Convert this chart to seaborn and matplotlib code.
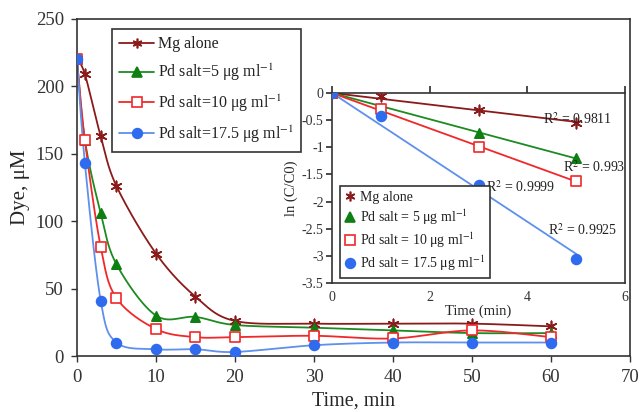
import numpy as np
import pandas as pd
import matplotlib
matplotlib.use("Agg")
import matplotlib.pyplot as plt
from matplotlib.lines import Line2D
import seaborn as sns

# ---- data: dye concentration vs time ----
time_min = [0, 1, 3, 5, 10, 15, 20, 30, 40, 50, 60]
mg_alone = [220, 209, 163, 126, 76, 44, 26, 24, 24, 24, 22]
pd_5 = [220, 160, 106, 68, 30, 29, 23, 21, 19, 17, 17]
pd_10 = [220, 160, 81, 43, 20, 14, 14, 15, 13, 19, 14]
pd_17_5 = [220, 143, 41, 10, 5, 5, 3, 8, 10, 10, 10]

# ---- data: kinetics, ln(C/C0) vs time ----
kin_time = [0, 1, 3, 5]
kin_mg = [0, -0.05, -0.31, -0.55]
kin_pd5 = [0, -0.28, -0.74, -1.19]
kin_pd10 = [0, -0.30, -0.99, -1.63]
kin_pd17 = [0, -0.43, -1.69, -3.05]
r2_labels = ["0.9811", "0.993", "0.9999", "0.9925"]

main_labels = ["Mg alone", "Pd salt=5 μg ml$^{-1}$", "Pd salt=10 μg ml$^{-1}$",
               "Pd salt=17.5 μg ml$^{-1}$"]
inset_labels = ["Mg alone", "Pd salt = 5 μg ml$^{-1}$", "Pd salt = 10 μg ml$^{-1}$",
                "Pd salt = 17.5 μg ml$^{-1}$"]

sns.set_theme(style="ticks")
plt.rcParams["font.family"] = ["Liberation Serif", "DejaVu Serif"]
plt.rcParams["mathtext.fontset"] = "stix"
plt.rcParams["axes.edgecolor"] = "#333333"
plt.rcParams["xtick.color"] = "#333333"
plt.rcParams["ytick.color"] = "#333333"
plt.rcParams["text.color"] = "#222222"

colors = ["#8B1A1A", "#0E7F12", "#F0282A", "#2F6BEF"]
line_colors = ["#8B1A1A", "#1E8A22", "#F0282A", "#5E90EC"]
markers = [(6, 2, 0), "^", "s", "o"]
mfaces = ["#8B1A1A", "#0E7F12", "none", "#2F6BEF"]
msizes = [55, 45, 45, 50]


def smooth_curve(x, y, n=30):
    """Bezier smoothing through every point (control points at 1/6 of neighbour span)."""
    p = np.column_stack([x, y]).astype(float)
    ext = np.vstack([p[0], p, p[-1]])
    out = []
    t = np.linspace(0, 1, n)[:, None]
    for i in range(len(p) - 1):
        p0, p1 = ext[i + 1], ext[i + 2]
        c1 = p0 + (ext[i + 2] - ext[i]) / 6.0
        c2 = p1 - (ext[i + 3] - ext[i + 1]) / 6.0
        seg = ((1 - t) ** 3) * p0 + 3 * ((1 - t) ** 2) * t * c1 + 3 * (1 - t) * t ** 2 * c2 + t ** 3 * p1
        out.append(seg if i == 0 else seg[1:])
    s = np.vstack(out)
    return s[:, 0], s[:, 1]


fig = plt.figure(figsize=(6.4, 4.12), dpi=100)
ax = fig.add_axes([0.1203, 0.1359, 0.8641, 0.818])

series = [mg_alone, pd_5, pd_10, pd_17_5]
handles = []
for vals, lab, c, lc, m, mf, ms in zip(series, main_labels, colors, line_colors, markers, mfaces, msizes):
    sx, sy = smooth_curve(time_min, vals)
    sns.lineplot(x=sx, y=sy, ax=ax, color=lc, lw=1.3, sort=False, estimator=None, legend=False)
    df = pd.DataFrame({"t": time_min, "v": vals})
    if mf == "none":
        sns.scatterplot(data=df, x="t", y="v", ax=ax, marker=m, s=ms, facecolor="white",
                        edgecolor=c, linewidth=1.2, zorder=3, legend=False)
    else:
        sns.scatterplot(data=df, x="t", y="v", ax=ax, marker=m, s=ms, color=c,
                        edgecolor=c, linewidth=1.2, zorder=3, legend=False)
    handles.append(Line2D([], [], color=lc, lw=1.3, marker=m, markersize=7,
                          markerfacecolor=("white" if mf == "none" else c),
                          markeredgecolor=c, markeredgewidth=1.2, label=lab))

ax.set_xlim(0, 70)
ax.set_ylim(0, 250)
ax.set_xticks(range(0, 71, 10))
ax.set_yticks(range(0, 251, 50))
ax.tick_params(labelsize=13.5, length=4.5, width=1, direction="out", pad=5)
for sp in ax.spines.values():
    sp.set_visible(True)
    sp.set_linewidth(1.2)
ax.set_xlabel("Time, min", fontsize=14.5, labelpad=4)
ax.set_ylabel("Dye, μM", fontsize=15, labelpad=4)

leg = ax.legend(handles=handles, loc="upper left", bbox_to_anchor=(0.0633, 0.970),
                borderaxespad=0, fontsize=11.5, frameon=True, fancybox=False,
                handlelength=2.2, handletextpad=0.2, labelspacing=0.6,
                borderpad=0.45)
leg.get_frame().set_edgecolor("#333333")
leg.get_frame().set_linewidth(1.2)
leg.get_frame().set_alpha(1)

# ---- inset: first-order kinetics ----
axi = fig.add_axes([0.5188, 0.3131, 0.4578, 0.4612])
axi.set_facecolor("white")
kin = [kin_mg, kin_pd5, kin_pd10, kin_pd17]
ihandles = []
r2_pos = [(4.33, -0.48), (4.72, -1.37), (3.15, -1.74), (4.43, -2.52)]
for vals, lab, c, lc, m, mf, ms, r2, pos in zip(kin, inset_labels, colors, line_colors, markers,
                                                 mfaces, msizes, r2_labels, r2_pos):
    x = np.array(kin_time, float)
    y = np.array(vals, float)
    slope = np.sum(x * y) / np.sum(x * x)  # trend line through the origin
    fx = np.array([0.0, x.max()])
    sns.lineplot(x=fx, y=slope * fx, ax=axi, color=lc, lw=1.3, legend=False)
    df = pd.DataFrame({"t": kin_time, "v": vals})
    if mf == "none":
        sns.scatterplot(data=df, x="t", y="v", ax=axi, marker=m, s=ms, facecolor="white",
                        edgecolor=c, linewidth=1.2, zorder=3, legend=False)
    else:
        sns.scatterplot(data=df, x="t", y="v", ax=axi, marker=m, s=ms, color=c,
                        edgecolor=c, linewidth=1.2, zorder=3, legend=False)
    axi.text(pos[0], pos[1], "R$^2$ = " + r2, fontsize=10, va="center", ha="left", color="#222222")
    ihandles.append(Line2D([], [], lw=0, marker=m, markersize=7,
                           markerfacecolor=("white" if mf == "none" else c),
                           markeredgecolor=c, markeredgewidth=1.2, label=lab))

axi.set_xlim(0, 6)
axi.set_ylim(-3.5, 0)
axi.set_xticks([0, 2, 4, 6])
axi.set_yticks(np.arange(-3.5, 0.01, 0.5))
axi.set_yticklabels(["-3.5", "-3", "-2.5", "-2", "-1.5", "-1", "-0.5", "0"])
axi.tick_params(axis="x", top=True, bottom=False, labeltop=False, labelbottom=True,
                direction="out", length=5, labelsize=10, pad=1)
axi.tick_params(axis="y", direction="out", length=4, labelsize=10, pad=2)
for sp in axi.spines.values():
    sp.set_visible(True)
    sp.set_linewidth(1.2)
axi.set_xlabel("Time (min)", fontsize=10.5, labelpad=0)
axi.set_ylabel("ln (C/C0)", fontsize=10.5, labelpad=3)

ileg = axi.legend(handles=ihandles, loc="lower left", bbox_to_anchor=(0.027, 0.026),
                  borderaxespad=0, fontsize=10, frameon=True, fancybox=False,
                  handlelength=0.8, handletextpad=0.3, labelspacing=0.25, borderpad=0.35)
ileg.get_frame().set_edgecolor("#333333")
ileg.get_frame().set_linewidth(1.2)
ileg.get_frame().set_alpha(1)

fig.savefig("out.png", dpi=100)
